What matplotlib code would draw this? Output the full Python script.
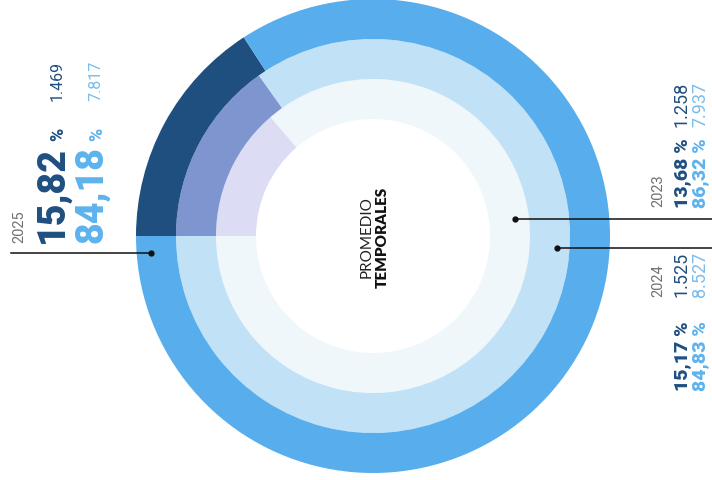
import matplotlib
matplotlib.use("Agg")
import matplotlib.pyplot as plt

# ---- data ----
years = ["2023", "2024", "2025"]            # inner, middle, outer ring
pct_temp = [13.68, 15.17, 15.82]
pct_other = [86.32, 84.83, 84.18]
n_temp = [1258, 1525, 1469]
n_other = [7937, 8527, 7817]
center_top = "PROMEDIO"
center_bottom = "TEMPORALES"

dark_cols = ["#dcdcf5", "#7f95cf", "#1f4f7e"]
light_cols = ["#f0f7fb", "#c1e1f7", "#58aeec"]

TXT_DARK = "#1f4f80"
TXT_LIGHT = "#5db2ee"
TXT_LIGHT2 = "#7bbcec"
TXT_GREY = "#707070"

def fmt_pct(v):
    return f"{v:.2f}".replace(".", ",")

def fmt_n(v):
    return f"{v:,}".replace(",", ".")

fig = plt.figure(figsize=(7.12, 4.81), dpi=100)
ax = fig.add_axes([0, 0, 1, 1])

cx, cy = 373, 237
radii = [157, 197, 237]
width = 40
for i in range(3):
    ax.pie([pct_temp[i], pct_other[i]], radius=radii[i], center=(cx, cy),
           startangle=180, counterclock=True, colors=[dark_cols[i], light_cols[i]],
           wedgeprops=dict(width=width, linewidth=0), frame=True)
ax.set_xlim(0, 712)
ax.set_ylim(481, 0)
ax.set_aspect("equal")
ax.axis("off")

# centre text
ax.text(367, 237, center_top, rotation=90, ha="center", va="center",
        fontsize=11, family="Lato", color="#222222", fontweight="normal")
ax.text(382, 237, center_bottom, rotation=90, ha="center", va="center",
        fontsize=11, family="Lato", color="#111111", fontweight="heavy")

# leader lines
lk = dict(color="#111111", lw=1.1, zorder=5)
ax.plot([11, 151], [254, 254], **lk)
ax.plot([151], [254], "o", color="#111111", ms=3.5, zorder=6)
ax.plot([515, 712], [220, 220], **lk)
ax.plot([515], [220], "o", color="#111111", ms=3.5, zorder=6)
ax.plot([557, 712], [249, 249], **lk)
ax.plot([557], [249], "o", color="#111111", ms=3.5, zorder=6)

def rt(x, y, s, size, color, weight="normal", family="Roboto"):
    ax.text(x, y, s, rotation=90, rotation_mode="anchor", ha="left",
            va="baseline", fontsize=size, color=color, fontweight=weight,
            family=family)

# 2025 block (outer ring)
rt(23, 243, years[2], 10.5, TXT_GREY, "normal")
rt(63, 243, fmt_pct(pct_temp[2]), 27, TXT_DARK, "heavy")
rt(63, 141, "%", 13, TXT_DARK, "heavy")
rt(62, 101, fmt_n(n_temp[2]), 11.5, TXT_DARK, "normal")
rt(102, 243, fmt_pct(pct_other[2]), 27, TXT_LIGHT, "heavy")
rt(102, 141, "%", 13, TXT_LIGHT, "heavy")
rt(100, 101, fmt_n(n_other[2]), 11.5, TXT_LIGHT2, "normal")

# 2023 block (inner ring)
rt(662, 207, years[0], 10.5, TXT_GREY, "normal")
rt(687, 208, fmt_pct(pct_temp[0]) + " %", 14, TXT_DARK, "heavy")
rt(687, 127, fmt_n(n_temp[0]), 13, TXT_DARK, "normal")
rt(705, 208, fmt_pct(pct_other[0]) + " %", 14, TXT_LIGHT, "heavy")
rt(705, 127, fmt_n(n_other[0]), 13, TXT_LIGHT2, "normal")

# 2024 block (middle ring)
rt(662, 297, years[1], 10.5, TXT_GREY, "normal")
rt(687, 391, fmt_pct(pct_temp[1]) + " %", 14, TXT_DARK, "heavy")
rt(687, 297, fmt_n(n_temp[1]), 13, TXT_DARK, "normal")
rt(705, 391, fmt_pct(pct_other[1]) + " %", 14, TXT_LIGHT, "heavy")
rt(705, 297, fmt_n(n_other[1]), 13, TXT_LIGHT2, "normal")

fig.savefig("out.png", dpi=100)
